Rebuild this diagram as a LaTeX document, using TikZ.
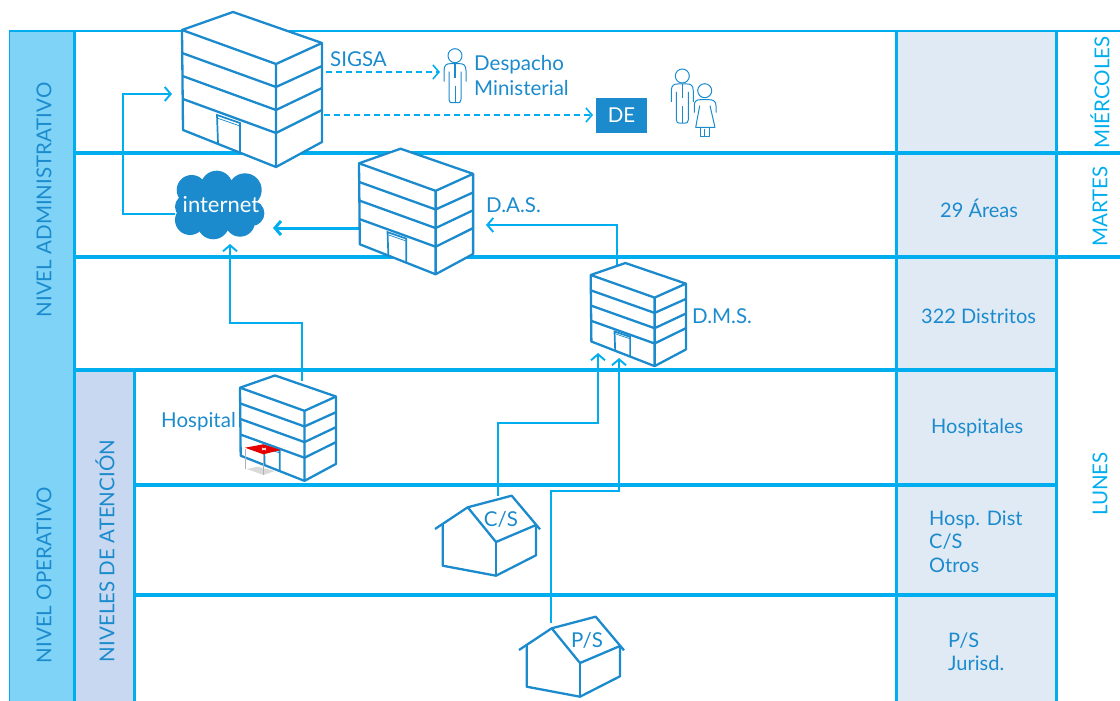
\documentclass[tikz,border=0pt]{standalone}
\usepackage{fontspec}
\setmainfont{Lato}
\usetikzlibrary{arrows.meta}
\definecolor{gridc}{HTML}{00AEEF}
\definecolor{inkc}{HTML}{1B8BCD}
\definecolor{leftc}{HTML}{7FD3F7}
\definecolor{atenc}{HTML}{C7D8F0}
\definecolor{rightc}{HTML}{E0EAF5}
\tikzset{
  gridline/.style={draw=gridc,line width=3.2pt},
  bld/.style={draw=inkc,line width=2.3pt,line join=round},
  bldthin/.style={draw=inkc,line width=1.7pt},
  conn/.style={draw=gridc,line width=1.9pt,-{Straight Barb[length=6pt,width=14pt]}},
  dashconn/.style={conn,line width=1.6pt,dash pattern=on 6pt off 4pt},
  lbl/.style={text=inkc,inner sep=0pt,font=\fontsize{20.5}{20.5}\selectfont},
  lblL/.style={lbl,anchor=west,yshift=-1pt},
  lblR/.style={lblL,font=\fontsize{20}{20}\selectfont},
  vert/.style={lbl,rotate=90},
  vertc/.style={vert,text=gridc},
  icon/.style={draw=inkc,line width=1pt,line join=round}
}
\newcommand{\building}[5]{%
  \begin{scope}[shift={(#2,#3)},xscale=#4,yscale=#5]
    \coordinate (#1) at (70,60);
    \filldraw[bld,fill=white] (0,0) -- (51,-18) -- (140,13) -- (140,112) -- (94,137) -- (1,100) -- cycle;
    \draw[bld] (0,0) -- (94,34) -- (140,13) (94,34) -- (94,137);
    \draw[bld] (0,23) -- (94,57) -- (140,36);
    \draw[bld] (.5,46) -- (94,80) -- (140,58);
    \draw[bld] (1,69) -- (94,103) -- (140,80);
    \draw[bldthin] (36,113) -- (35,85) -- (58,93) -- (58,122);
    \draw[draw=inkc,line width=.7pt] (35,88) -- (58,96);
  \end{scope}}
\newcommand{\house}[3]{%
  \begin{scope}[shift={(#2,#3)}]
    \coordinate (#1) at (30,30);
    \draw[bld] (0,33.5) -- (32.7,11.8) -- (76.7,.2) -- (105,33.8);
    \draw[bld] (32.7,11.8) -- (61,46.5) -- (101,29.5);
    \draw[bld] (7.7,28.5) -- (7.7,70.2) -- (61,80.2) -- (101,59.8) -- (101,29.5);
    \draw[bld] (61,46.5) -- (61,80.2);
  \end{scope}}
\newcommand{\manicon}[3]{%
  \begin{scope}[shift={(#2,#3)}]
    \coordinate (#1) at (0,0);
    \draw[icon] (0,0) circle (7);
    \draw[icon] (-11,26) -- (-11,15) .. controls (-11,9) and (-8,8) .. (-5,8) -- (5,8) .. controls (8,8) and (11,9) .. (11,15) -- (11,26);
    \draw[icon] (-6,16) -- (-6,44) .. controls (-6,47) and (-4,47) .. (-3,47) -- (3,47) .. controls (4,47) and (6,47) .. (6,44) -- (6,16);
    \draw[icon] (0,30) -- (0,47);
    \draw[draw=inkc,line width=1.6pt] (0,8) -- (0,22);
  \end{scope}}
\begin{document}
\begin{tikzpicture}[x=1pt,y=-1pt]
\useasboundingbox (0,0) rectangle (1120,701);
% column fills
\fill[leftc] (9,31) rectangle (74,701);
\fill[atenc] (75,371) rectangle (134,701);
\fill[rightc] (896,31) rectangle (1056,701);
% grid
\draw[draw=gridc,line width=1.5pt] (9.5,31) -- (9.5,701);
\draw[gridline,line width=2.2pt] (9,31) -- (1120,31);
\draw[gridline] (74.5,31) -- (74.5,701);
\draw[gridline] (896.5,31) -- (896.5,701);
\draw[gridline] (1056.5,31) -- (1056.5,701);
\draw[gridline] (75,153) -- (1120,153);
\draw[gridline] (75,257) -- (1120,257);
\draw[gridline] (75,370) -- (1056,370);
\draw[gridline] (134.5,372) -- (134.5,701);
\draw[gridline] (134,485) -- (1056,485);
\draw[gridline] (134,595) -- (1056,595);
% connector end points
\coordinate (sigsaA) at (326,72);   \coordinate (despachoIn) at (440,72);
\coordinate (sigsaB) at (324,115);  \coordinate (deIn) at (593,115);
\coordinate (cloudW) at (175,214);  \coordinate (loopA) at (123,214);
\coordinate (loopB) at (123,94);    \coordinate (sigsaIn) at (172,94);
\coordinate (dasW) at (360,228);    \coordinate (cloudE) at (273,228);
\coordinate (hospN) at (302,381);   \coordinate (hospA) at (302,323);
\coordinate (hospB) at (230,323);   \coordinate (cloudS) at (230,244);
\coordinate (dmsN) at (617,265);    \coordinate (dmsA) at (617,225);
\coordinate (dasE) at (486,225);
\coordinate (csN) at (498,496);     \coordinate (csA) at (498,423);
\coordinate (csB) at (598,423);     \coordinate (dmsS1) at (598,353);
\coordinate (psN) at (551,623);     \coordinate (psA) at (551,491);
\coordinate (psB) at (619,491);     \coordinate (dmsS2) at (619,358);
% connectors
\draw[dashconn] (sigsaA) -- (despachoIn);
\draw[dashconn] (sigsaB) -- (deIn);
\draw[conn] (cloudW) -- (loopA) -- (loopB) -- (sigsaIn);
\draw[conn,line width=3pt] (dasW) -- (cloudE);
\draw[conn] (hospN) -- (hospA) -- (hospB) -- (cloudS);
\draw[conn] (dmsN) -- (dmsA) -- (dasE);
\draw[conn] (csN) -- (csA) -- (csB) -- (dmsS1);
\draw[conn] (psN) -- (psA) -- (psB) -- (dmsS2);
% buildings
\building{sigsa}{182}{30}{1}{1}
\building{das}{359}{163.3}{.815}{.81}
\building{dms}{590.7}{275}{.68}{.665}
\building{hosp}{240}{387.7}{.686}{.68}
% hospital canopy
\fill[black!15] (246.7,469) -- (257.3,466.7) -- (275,471) -- (263.7,475) -- cycle;
\draw[black!30,line width=1.2pt] (245.7,449) -- (245.7,468.5) (263.7,454) -- (263.7,475);
\fill[red!90!black] (245,447.7) -- (263.3,444.3) -- (280.7,450) -- (263.3,454.3) -- cycle;
\draw[white,line width=.8pt] (262,448) -- (266,450) (266,448) -- (262,450);
% houses
\house{cs}{435}{495.5}
\house{ps}{519}{616.5}
% cloud
\fill[inkc] (191.7,190) circle (15) (216.7,186.7) circle (16) (245,190) circle (16.7)
  (190,220) circle (15) (213.3,223.3) circle (16) (240,221.7) circle (15)
  (251.7,213.3) circle (12.7) (187,206.7) circle (12) (220,205) circle (25);
\node[lbl,text=white] (internet) at (221,205) {\fontsize{22}{22}\selectfont internet};
% people
\manicon{man1}{455}{55.7}
\manicon{man2}{682.3}{76}
\begin{scope}[shift={(704.7,90.7)}]
  \coordinate (woman) at (0,0);
  \fill[white] (-10,10) rectangle (11,38);
  \draw[icon] (0,0) circle (7);
  \draw[icon] (-10.4,22) -- (-10.4,15) .. controls (-10.4,10) and (-8,9) .. (-4,9) -- (4,9) .. controls (8,9) and (11.3,10) .. (11.3,15) -- (11.3,22);
  \draw[icon] (-5,15) -- (-9,36.6) -- (10.3,36.6) -- (5.3,15);
  \draw[icon] (-4.7,36.6) -- (-4.7,46) -- (4.6,46) -- (4.6,36.6) (0,38) -- (0,46);
\end{scope}
% DE box
\node[fill=inkc,text=white,inner sep=0pt,minimum width=51pt,minimum height=35pt,font=\fontsize{20.5}{20.5}\selectfont] (de) at (621.5,115.5) {DE};
% labels
\node[lblL] (sigsaT) at (330,58) {SIGSA};
\node[lblL] (despacho) at (474,64) {Despacho};
\node[lblL] (ministerial) at (474,87) {Ministerial};
\node[lblL] (dasT) at (486,204) {D.A.S.};
\node[lblL] (dmsT) at (692,315) {D.M.S.};
\node[lblL] (hospT) at (161,421) {Hospital};
\node[lbl] (csT) at (501,519) {C/S};
\node[lbl] (psT) at (587,640) {P/S};
\node[lblR] (areas) at (940,207) {29 Áreas};
\node[lblR] (distritos) at (921,315) {322 Distritos};
\node[lblR] (hospitales) at (931,427) {Hospitales};
\node[lblR] (hospdist) at (929,519) {Hosp. Dist};
\node[lblR] (cs2) at (929,541) {C/S};
\node[lblR] (otros) at (929,564) {Otros};
\node[lblR] (ps2) at (948,640) {P/S};
\node[lblR] (jurisd) at (948,662) {Jurisd.};
\node[vert] (nadmin) at (44,200) {NIVEL ADMINISTRATIVO};
\node[vert] (noper) at (44,575) {NIVEL OPERATIVO};
\node[vert] (naten) at (105,551) {NIVELES DE ATENCIÓN};
\node[vertc] (mier) at (1100,92.5) {MIÉRCOLES};
\node[vertc] (mart) at (1100,206.5) {MARTES};
\node[vertc] (lun) at (1100,484) {LUNES};
\end{tikzpicture}
\end{document}
